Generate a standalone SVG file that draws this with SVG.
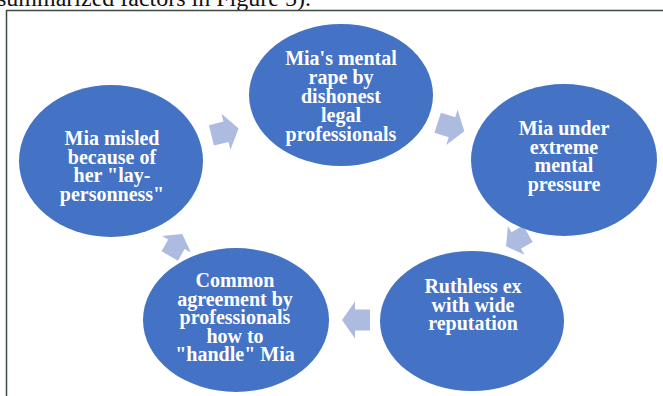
<svg xmlns="http://www.w3.org/2000/svg" width="663" height="396" viewBox="0 0 663 396">
<defs>
<style>
.node{fill:#4472c4}
.lbl{font-family:"Liberation Serif","Times New Roman",serif;font-weight:bold;font-size:20px;fill:#ffffff;text-anchor:middle}
.arr{fill:#adbbe1}
.hdr{font-family:"Liberation Serif","Times New Roman",serif;font-size:24px;fill:#111111}
</style>
<path id="arrow" d="M-14,-10.5 L1,-10.5 L1,-18.5 L14,0 L1,18.5 L1,10.5 L-14,10.5 Z"/>
</defs>
<rect width="663" height="396" fill="#ffffff"/>
<text class="hdr" x="-3" y="6">summarized factors in Figure 5).</text>
<rect x="6.5" y="10.5" width="700" height="420" fill="none" stroke="#3c4a44" stroke-width="1.5"/>
<g id="connectors">
<use href="#arrow" class="arr" transform="translate(225,132) rotate(-14)"/>
<use href="#arrow" class="arr" transform="translate(451,127) rotate(18)"/>
<use href="#arrow" class="arr" transform="translate(517,240) scale(0.9) rotate(150)"/>
<use href="#arrow" class="arr" transform="translate(356,320) rotate(180)"/>
<use href="#arrow" class="arr" transform="translate(176,245) scale(0.9) rotate(-60)"/>
</g>
<g id="node-top">
<ellipse class="node" cx="341" cy="95" rx="92" ry="71"/>
<text class="lbl"><tspan x="341" y="65">Mia's mental</tspan><tspan x="341" y="84">rape by</tspan><tspan x="341" y="103">dishonest</tspan><tspan x="341" y="122">legal</tspan><tspan x="341" y="141">professionals</tspan></text>
</g>
<g id="node-right">
<ellipse class="node" cx="564" cy="160" rx="93" ry="76"/>
<text class="lbl"><tspan x="564" y="135">Mia under</tspan><tspan x="564" y="153.5">extreme</tspan><tspan x="564" y="172">mental</tspan><tspan x="564" y="190.5">pressure</tspan></text>
</g>
<g id="node-bottom-right">
<ellipse class="node" cx="472" cy="321" rx="92" ry="70"/>
<text class="lbl"><tspan x="473" y="293">Ruthless ex</tspan><tspan x="473" y="311.5">with wide</tspan><tspan x="473" y="330">reputation</tspan></text>
</g>
<g id="node-bottom-left">
<ellipse class="node" cx="236" cy="320" rx="93" ry="72"/>
<text class="lbl"><tspan x="235" y="287">Common</tspan><tspan x="235" y="305.5">agreement by</tspan><tspan x="235" y="324">professionals</tspan><tspan x="235" y="342.5">how to</tspan><tspan x="235" y="361">"handle" Mia</tspan></text>
</g>
<g id="node-left">
<ellipse class="node" cx="111" cy="161" rx="92" ry="76"/>
<text class="lbl"><tspan x="112" y="145">Mia misled</tspan><tspan x="112" y="163.5">because of</tspan><tspan x="112" y="182">her "lay-</tspan><tspan x="112" y="200.5">personness"</tspan></text>
</g>
</svg>
